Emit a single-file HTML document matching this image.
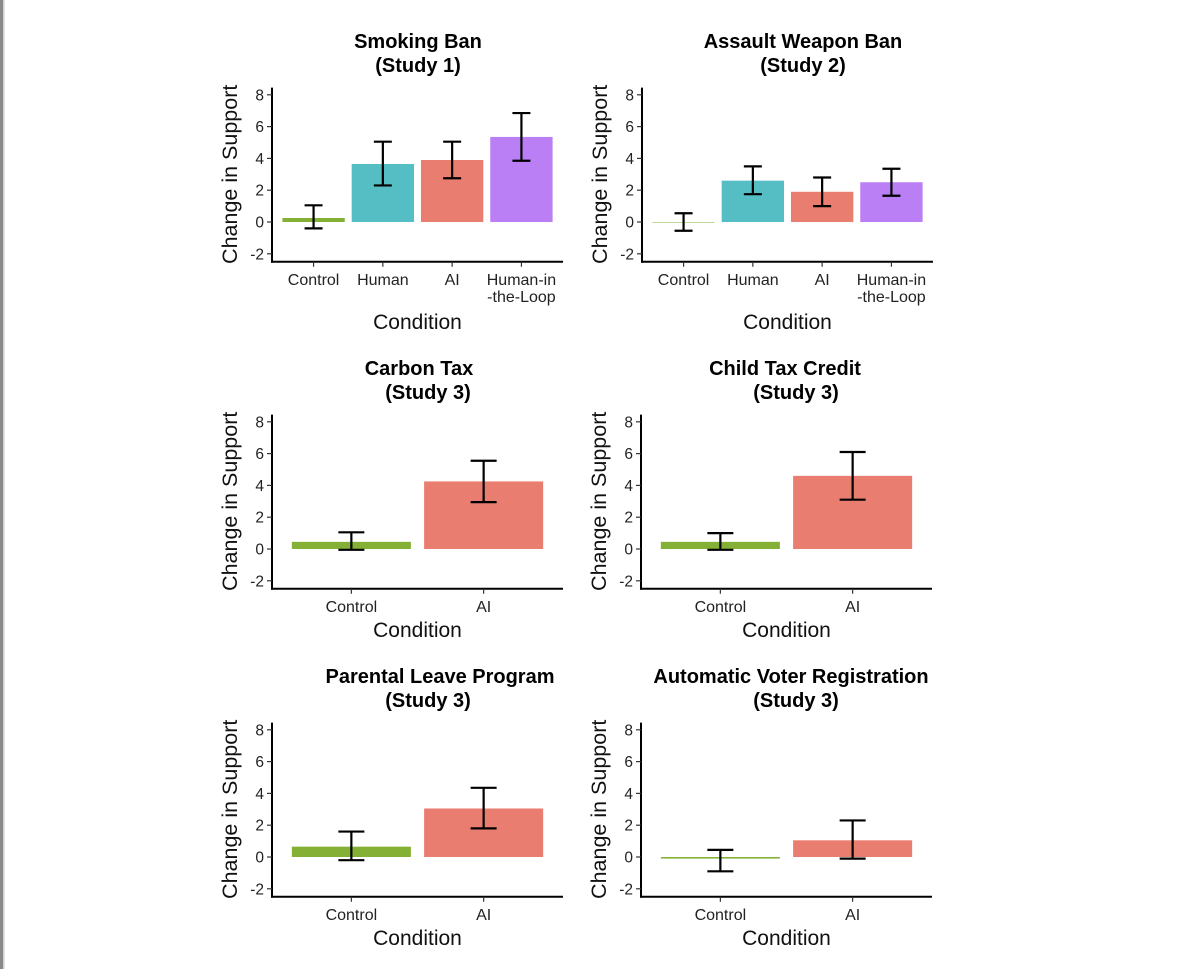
<!DOCTYPE html>
<html><head><meta charset="utf-8"><style>
body{margin:0;background:#fff;}
svg{display:block;font-family:"Liberation Sans",Arial,sans-serif;}
</style></head><body>
<svg id="fig" width="1200" height="969" viewBox="0 0 1200 969">
<rect x="0" y="0" width="3" height="969" fill="#8a8a8a"/>
<rect x="3" y="0" width="1.5" height="969" fill="#d0d0d0"/>
</svg>
<script>
const titles1 = ["Smoking Ban","Assault Weapon Ban","Carbon Tax","Child Tax Credit","Parental Leave Program","Automatic Voter Registration"];
const titles2 = ["(Study 1)","(Study 2)","(Study 3)","(Study 3)","(Study 3)","(Study 3)"];
const categories4 = ["Control","Human","AI","Human-in-the-Loop"];
const categories2 = ["Control","AI"];
const meansP1 = [0.25,3.65,3.9,5.35];
const lowP1 = [-0.4,2.3,2.75,3.85];
const highP1 = [1.05,5.05,5.05,6.85];
const meansP2 = [0.0,2.6,1.9,2.5];
const lowP2 = [-0.55,1.75,1.0,1.65];
const highP2 = [0.55,3.5,2.8,3.35];
const meansP3 = [0.45,4.25];
const lowP3 = [-0.05,2.95];
const highP3 = [1.05,5.55];
const meansP4 = [0.45,4.6];
const lowP4 = [-0.05,3.1];
const highP4 = [1.0,6.1];
const meansP5 = [0.65,3.05];
const lowP5 = [-0.2,1.8];
const highP5 = [1.6,4.35];
const meansP6 = [-0.1,1.05];
const lowP6 = [-0.9,-0.1];
const highP6 = [0.45,2.3];
const yTicks = [-2,0,2,4,6,8];
const yTickLabels = ["-2","0","2","4","6","8"];

const colorMap = {"Control":"#84b135","Human":"#55bec4","AI":"#e97d6f","Human-in-the-Loop":"#bb7ff5"};
const svg = document.getElementById('fig');
const NS = "http://www.w3.org/2000/svg";
function mk(tag, attrs, parent){
  const e = document.createElementNS(NS, tag);
  for (const k in attrs) e.setAttribute(k, attrs[k]);
  (parent||svg).appendChild(e);
  return e;
}
const panels = [
  {ax:272, zero:222, cats:categories4, m:meansP1, lo:lowP1, hi:highP1, tc1:418, tc2:418},
  {ax:642, zero:222, cats:categories4, m:meansP2, lo:lowP2, hi:highP2, tc1:803, tc2:803},
  {ax:272, zero:549, cats:categories2, m:meansP3, lo:lowP3, hi:highP3, tc1:419, tc2:428},
  {ax:641, zero:549, cats:categories2, m:meansP4, lo:lowP4, hi:highP4, tc1:785, tc2:796},
  {ax:272, zero:857, cats:categories2, m:meansP5, lo:lowP5, hi:highP5, tc1:440, tc2:428},
  {ax:641, zero:857, cats:categories2, m:meansP6, lo:lowP6, hi:highP6, tc1:791, tc2:796}
];
const PW = 291, UNIT = 15.9;
panels.forEach((p, i) => {
  const g = mk('g', {});
  
  
  const n = p.cats.length;
  const step = PW / (n + 0.2);
  const xs = k => p.ax + (0.6 + k) * step;
  const ys = v => p.zero - v * UNIT;
  const cx = p.ax + PW/2;
  const t1 = mk('text', {x:p.tc1, y:p.zero-174, 'text-anchor':'middle', 'font-size':'20', 'font-weight':'bold', fill:'#000'}, g);
  t1.textContent = titles1[i];
  
  
  const t2 = mk('text', {x:p.tc2, y:p.zero-150, 'text-anchor':'middle', 'font-size':'20', 'font-weight':'bold', fill:'#000'}, g);
  t2.textContent = titles2[i];
  
  
  p.m.forEach((v, k) => {
    const bw = 0.9 * step;
    const y0 = Math.min(ys(v), ys(0)), h = Math.max(Math.abs(ys(v) - ys(0)), 0.5);
    const r = mk('rect', {x:xs(k)-bw/2, y:y0, width:bw, height:h, fill:colorMap[p.cats[k]]}, g);
    
    
  });
  p.m.forEach((v, k) => {
    const eg = mk('g', {stroke:'#000', 'stroke-width':'2.2', fill:'none'}, g);
    
    
    const x = xs(k), hw = n === 4 ? 9 : 13;
    mk('line', {x1:x, x2:x, y1:ys(p.lo[k]), y2:ys(p.hi[k])}, eg);
    mk('line', {x1:x-hw, x2:x+hw, y1:ys(p.lo[k]), y2:ys(p.lo[k])}, eg);
    mk('line', {x1:x-hw, x2:x+hw, y1:ys(p.hi[k]), y2:ys(p.hi[k])}, eg);
  });
  const top = ys(8.45), bottom = ys(-2.5);
  const ya = mk('line', {x1:p.ax, x2:p.ax, y1:top, y2:bottom+1, stroke:'#000', 'stroke-width':'2'}, g);
  
  
  const xa = mk('line', {x1:p.ax-1, x2:p.ax+PW, y1:bottom, y2:bottom, stroke:'#000', 'stroke-width':'2'}, g);
  
  
  yTicks.forEach((tv, k) => {
    mk('line', {x1:p.ax-5, x2:p.ax, y1:ys(tv), y2:ys(tv), stroke:'#333', 'stroke-width':'1.2'}, g);
    const tl = mk('text', {x:p.ax-8, y:ys(tv)+5.5, 'text-anchor':'end', 'font-size':'15.5', fill:'#222'}, g);
    tl.textContent = yTickLabels[k];
    
    
  });
  p.cats.forEach((c, k) => {
    mk('line', {x1:xs(k), x2:xs(k), y1:bottom, y2:bottom+5, stroke:'#333', 'stroke-width':'1.2'}, g);
    const lines = c === "Human-in-the-Loop" ? ["Human-in","-the-Loop"] : [c];
    lines.forEach((ln, j) => {
      const tl = mk('text', {x:xs(k), y:p.zero+63+j*17, 'text-anchor':'middle', 'font-size':'16', fill:'#222'}, g);
      tl.textContent = ln;
      
      
    });
  });
  const xt = mk('text', {x:cx, y:p.zero + (n === 4 ? 107 : 88), 'text-anchor':'middle', 'font-size':'21', fill:'#111'}, g);
  xt.textContent = "Condition";
  
  
  const yx = p.ax - 35, yy = ys(3);
  const yt = mk('text', {x:yx, y:yy, 'text-anchor':'middle', 'font-size':'21.5', fill:'#111', transform:'rotate(-90 '+yx+' '+yy+')'}, g);
  yt.textContent = "Change in Support";
  
  
});
</script>
</body></html>
